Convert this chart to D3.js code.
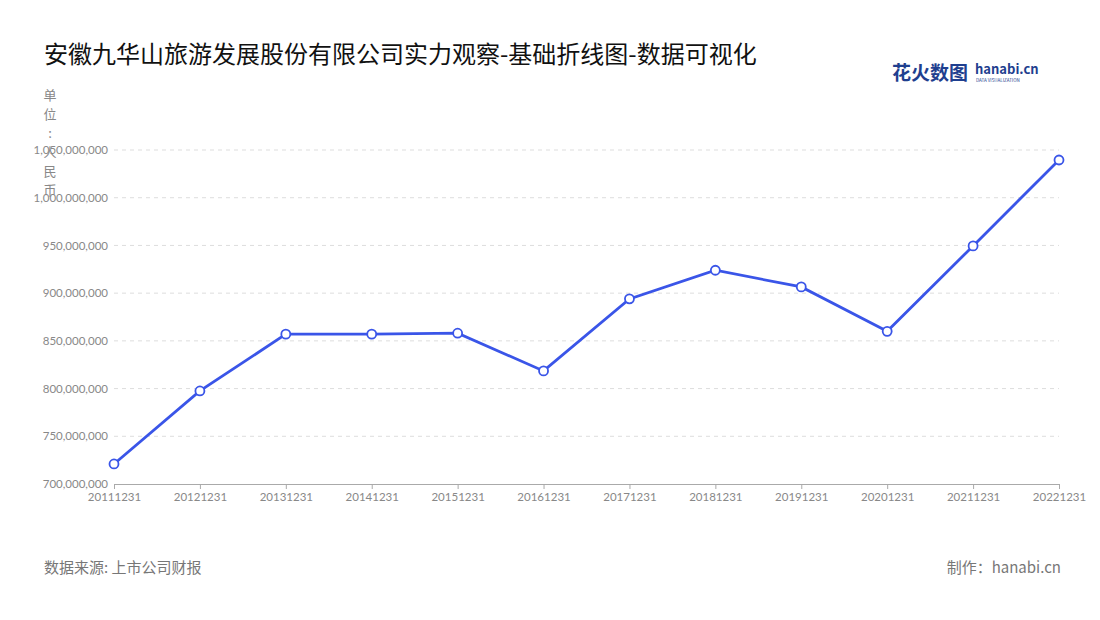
<!DOCTYPE html>
<html><head><meta charset="utf-8">
<script src="https://cdn.jsdelivr.net/npm/d3@7"></script>
<style>body{margin:0;background:#fff;font-family:"Noto Sans CJK SC","Noto Sans",sans-serif}</style>
</head><body><div id="chart"></div>
<script>
// 年份 & 营收 (人民币)
const years = ["20111231","20121231","20131231","20141231","20151231","20161231","20171231","20181231","20191231","20201231","20211231","20221231"]
const values = [721000000,797500000,857000000,857000000,858000000,818500000,894000000,924000000,906500000,860000000,949500000,1039500000]
const yTicks = [700000000,750000000,800000000,850000000,900000000,950000000,1000000000,1050000000]

const width = 1100, height = 620
const margin = { top: 150, right: 41, bottom: 136, left: 114 }

let svg = d3.select("#chart").append("svg")
    .attr("width", width).attr("height", height)

svg.append("text").attr("x", 44).attr("y", 63)
    .attr("font-size", 24).attr("fill", "#111")
    .text("安徽九华山旅游发展股份有限公司实力观察-基础折线图-数据可视化")

// logo
svg.append("text").attr("x", 892).attr("y", 80).attr("font-size", 19).attr("font-weight", "bold")
    .attr("fill", "#1f3f8f").text("花火数图")
svg.append("text").attr("x", 975).attr("y", 74).attr("font-size", 13).attr("font-weight", "bold")
    .attr("fill", "#1f3f8f").text("hanabi.cn")
svg.append("text").attr("x", 976).attr("y", 82).attr("font-size", 4.5)
    .attr("fill", "#1f3f8f").text("DATA VISUALIZATION")

let x = d3.scalePoint().domain(years).range([margin.left, width - margin.right])
let y = d3.scaleLinear().domain([700000000, 1050000000]).range([height - margin.bottom, margin.top])

// grid
svg.append("g").selectAll("line").data(yTicks.slice(1)).enter().append("line")
    .attr("x1", margin.left).attr("x2", width - margin.right)
    .attr("y1", d => y(d)).attr("y2", d => y(d))
    .attr("stroke", "#ddd").attr("stroke-dasharray", "4,4")

let yAxis = svg.append("g").attr("transform", `translate(${margin.left},0)`)
    .call(d3.axisLeft(y).tickValues(yTicks).tickFormat(d3.format(",")).tickSize(0).tickPadding(6))
yAxis.select(".domain").remove()
yAxis.selectAll("text").attr("fill", "#888").attr("font-size", 11.5).attr("font-family", "Lato, sans-serif")

let xAxis = svg.append("g").attr("transform", `translate(0,${height - margin.bottom})`)
    .call(d3.axisBottom(x).tickSize(5).tickPadding(4))
xAxis.select(".domain").attr("stroke", "#aaa")
xAxis.selectAll("line").attr("stroke", "#aaa")
xAxis.selectAll("text").attr("fill", "#888").attr("font-size", 11.5).attr("font-family", "Lato, sans-serif")

// unit label (vertical)
"单位：人民币".split("").forEach((c, i) => {
    svg.append("text").attr("x", 50).attr("y", 100 + i * 19).attr("text-anchor", "middle")
        .attr("font-size", 13).attr("fill", "#888").text(c === "：" ? ":" : c)
})

let line = d3.line().x((d, i) => x(years[i])).y(d => y(d))
svg.append("path").datum(values).attr("d", line)
    .attr("fill", "none").attr("stroke", "#3a55e8").attr("stroke-width", 2.8)

svg.append("g").selectAll("circle").data(values).enter().append("circle")
    .attr("cx", (d, i) => x(years[i])).attr("cy", d => y(d)).attr("r", 4.5)
    .attr("fill", "#fff").attr("stroke", "#3a55e8").attr("stroke-width", 1.8)

svg.append("text").attr("x", 44).attr("y", 573).attr("font-size", 15).attr("fill", "#777")
    .text("数据来源: 上市公司财报")
svg.append("text").attr("x", 1061).attr("y", 573).attr("font-size", 15).attr("fill", "#777")
    .attr("text-anchor", "end").text("制作：hanabi.cn")
</script></body></html>
